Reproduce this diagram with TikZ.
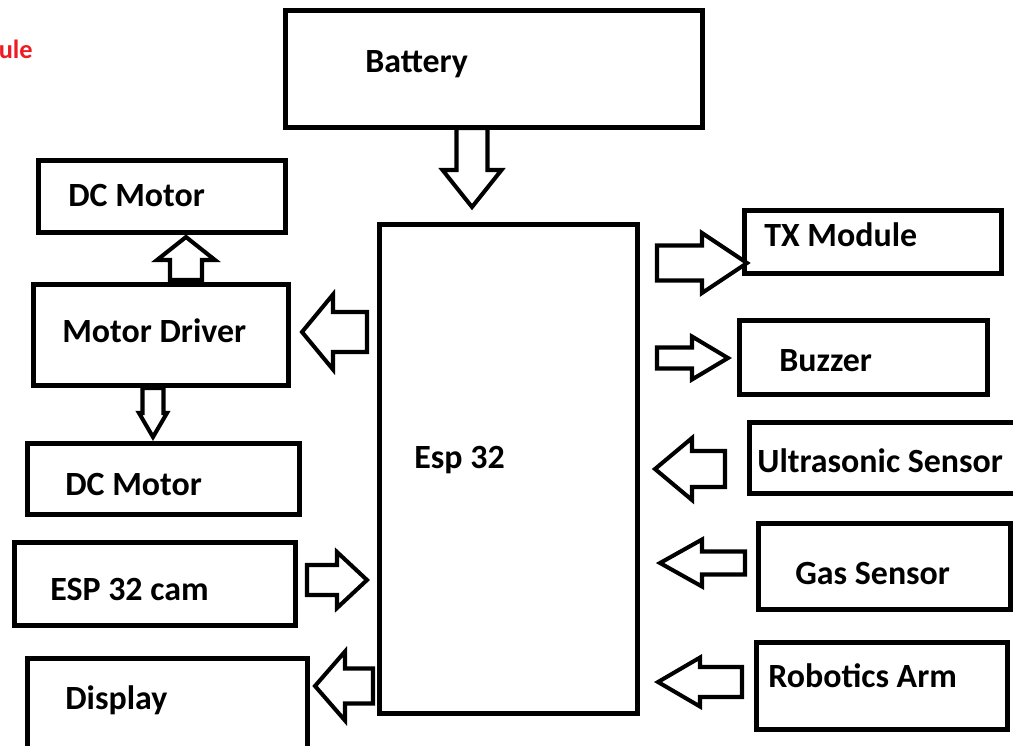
\documentclass[tikz,border=0pt]{standalone}
\usepackage{fontspec}
\setmainfont{Carlito}

%% freccia a blocco: coda x,y / punta x,y / mezzo fusto / mezza testa / lunghezza testa
\newcommand{\blockarr}[7]{%
	\pgfmathsetmacro{\ang}{atan2(-(#4-#2),#3-#1)}%
	\pgfmathsetmacro{\len}{veclen(#3-#1,#4-#2)}%
	\pgfmathsetmacro{\hb}{\len-#7}%
	\begin{scope}[shift={(#1,#2)}, rotate=\ang]
		\draw[freccia] (0,-#5) -- (\hb,-#5) -- (\hb,-#6) -- (\len,0)
		-- (\hb,#6) -- (\hb,#5) -- (0,#5) -- cycle;
	\end{scope}}

%% riquadro: nome, x1, y1, x2, y2 (bordi esterni, in pixel)
\newcommand{\blok}[5]{%
	\node[blok, minimum width={(#4-#2-5)*0.02cm},
	minimum height={(#5-#3-5)*0.02cm}] (#1) at ({(#2+#4)/2},{(#3+#5)/2}) {};}

\begin{document}
\begin{tikzpicture}[
		x=0.02cm, y=-0.02cm,
		blok/.style={draw=black, line width=2.6pt, rectangle, inner sep=0pt},
		freccia/.style={draw=black, line width=2.3pt, line join=miter, fill=white},
		testo/.style={anchor=base west, inner sep=0pt,
			font=\bfseries\fontsize{19.3}{23}\selectfont},
		rosso/.style={anchor=base east, inner sep=0pt, text={rgb,255:red,237;green,28;blue,36},
			font=\bfseries\fontsize{15}{18}\selectfont}]
	
	\useasboundingbox (0,0) rectangle (1013,745);
	\clip (0,0) rectangle (1013,745);
	
	%% --- riquadri ---
	\blok{bat}{283}{8}{705}{130}
	\blok{esp}{377}{222}{640}{716}
	\blok{mot1}{36}{158}{288}{235}
	\blok{drv}{31}{282}{291}{388}
	\blok{mot2}{25}{441}{302}{517}
	\blok{cam}{12}{540}{298}{628}
	\blok{disp}{25}{656}{310}{752}
	\blok{tx}{742}{208}{1004}{276}
	\blok{buz}{737}{318}{990}{397}
	\blok{ultra}{747}{420}{1022}{496}
	\blok{gas}{756}{521}{1013}{612}
	\blok{arm}{754}{640}{1010}{732}
	
	%% --- testi ---
	\node[testo] (tBat)   at (365,72)  {Battery};
	\node[testo] (tEsp)   at (414,468) {Esp 32};
	\node[testo] (tMot1)  at (68,206)  {DC Motor};
	\node[testo] (tDrv)   at (62,342)  {Motor Driver};
	\node[testo] (tMot2)  at (65,495)  {DC Motor};
	\node[testo] (tCam)   at (50,600)  {ESP 32 cam};
	\node[testo] (tDisp)  at (65,709)  {Display};
	\node[testo] (tTx)    at (764,246) {TX Module};
	\node[testo] (tBuz)   at (779,371) {Buzzer};
	\node[testo] (tUltra) at (757,472) {Ultrasonic Sensor};
	\node[testo] (tGas)   at (795,584) {Gas Sensor};
	\node[testo] (tArm)   at (768,687) {Robotics Arm};
	\node[rosso] (tUle)   at (33,58)   {ule};
	
	%% --- frecce a blocco ---
	\blockarr{472}{128}{472}{207}{15.5}{29.5}{37}  %% batteria -> esp
	\blockarr{186}{280}{186}{237}{16}{29}{23}      %% driver -> motore sopra
	\blockarr{153}{388}{153}{437}{10.5}{14}{24}    %% driver -> motore sotto
	\blockarr{367}{332}{302}{332}{20}{37.5}{31}    %% esp -> driver
	\blockarr{307}{580}{367}{580}{15}{28}{30}      %% cam -> esp
	\blockarr{373}{686}{315}{686}{17.5}{34.5}{30}  %% esp -> display
	\blockarr{657}{263}{747}{263}{17.5}{30}{45}    %% esp -> tx
	\blockarr{657}{358}{728}{358}{10.5}{21.5}{36}  %% esp -> buzzer
	\blockarr{725}{469}{655}{469}{18}{31}{37}      %% ultrasuoni -> esp
	\blockarr{745}{563}{660}{563}{11.5}{23.5}{42}  %% gas -> esp
	\blockarr{742}{682}{658}{682}{15}{24.5}{42}    %% braccio -> esp
	
\end{tikzpicture}
\end{document}
